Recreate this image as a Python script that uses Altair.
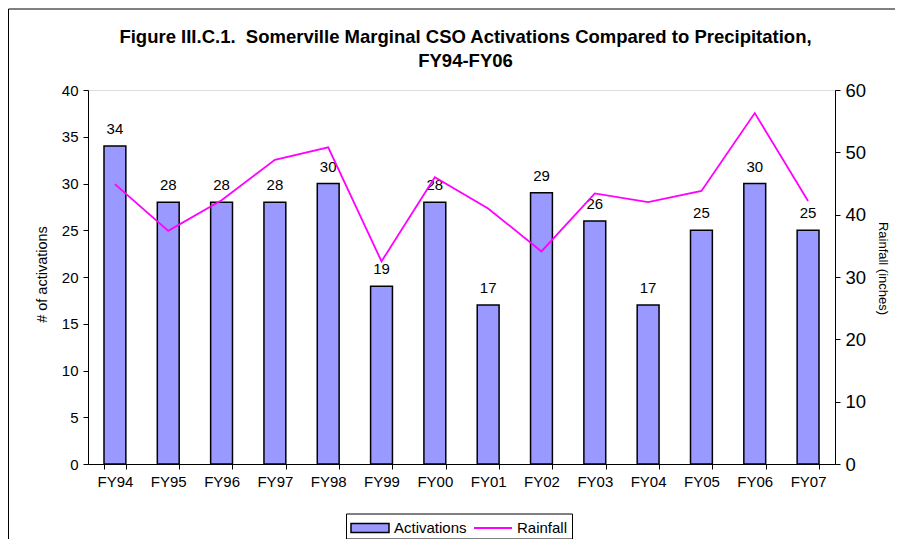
import altair as alt
import pandas as pd

years = ["FY94", "FY95", "FY96", "FY97", "FY98", "FY99", "FY00",
         "FY01", "FY02", "FY03", "FY04", "FY05", "FY06", "FY07"]
activations = [34, 28, 28, 28, 30, 19, 28, 17, 29, 26, 17, 25, 30, 25]
rainfall = [44.9, 37.4, 42.3, 48.8, 50.8, 32.5, 46.0, 41.0, 34.1, 43.4, 42.0, 43.8, 56.3, 42.2]

df = pd.DataFrame({
    "year": years,
    "activations": activations,
    "rainfall": rainfall,
    "s_bar": ["Activations"] * len(years),
    "s_line": ["Rainfall"] * len(years),
})

FONT = "Liberation Sans"

bar_legend = alt.Legend(
    orient="none", legendX=262, legendY=418, direction="horizontal", title=None,
    padding=0, labelFont=FONT, labelFontSize=15, labelColor="black", labelOffset=4,
    symbolSize=1444, symbolType="M-1,-0.24H1V0.24H-1Z",
    symbolStrokeColor="black", symbolStrokeWidth=1.5, symbolFillColor="#9999FF",
    symbolOpacity=1,
)
line_legend = alt.Legend(
    orient="none", legendX=385, legendY=418, direction="horizontal", title=None,
    padding=0, labelFont=FONT, labelFontSize=15, labelColor="black", labelOffset=4,
    symbolSize=1444, symbolType="stroke", symbolStrokeWidth=1.8, symbolOpacity=1,
)

x_enc = alt.X("year:N", sort=years, title=None,
              scale=alt.Scale(paddingInner=0.59, paddingOuter=0.3),
              axis=alt.Axis(labelAngle=0, tickBand="extent", labelFont=FONT, labelFontSize=15,
                            labelColor="black", tickColor="black", domainColor="black",
                            tickSize=5, labelPadding=5))

bars = alt.Chart(df).mark_bar(stroke="black", strokeWidth=1.5, fillOpacity=1).encode(
    x=x_enc,
    y=alt.Y("activations:Q", scale=alt.Scale(domain=[0, 40]),
            axis=alt.Axis(title="# of activations", values=list(range(0, 41, 5)), grid=False,
                          labelFont=FONT, labelFontSize=15, labelColor="black",
                          titleFont=FONT, titleFontSize=14.5, titleFontWeight="normal",
                          titleColor="black", titlePadding=12, titleY=184, tickColor="black",
                          domainColor="black", tickSize=5, labelPadding=5)),
    fill=alt.Fill("s_bar:N", scale=alt.Scale(domain=["Activations"], range=["#9999FF"]),
                  legend=bar_legend),
)

labels = alt.Chart(df).mark_text(dy=-17, font=FONT, fontSize=15, color="black").encode(
    x=alt.X("year:N", sort=years),
    y=alt.Y("activations:Q", scale=alt.Scale(domain=[0, 40])),
    text="activations:Q",
)

left = alt.layer(bars, labels)

line = alt.Chart(df).mark_line(strokeWidth=1.8).encode(
    x=alt.X("year:N", sort=years),
    y=alt.Y("rainfall:Q", scale=alt.Scale(domain=[0, 60]),
            axis=alt.Axis(title="Rainfall (inches)", orient="right", values=list(range(0, 61, 10)),
                          grid=False, labelFont=FONT, labelFontSize=18.5, labelColor="black",
                          titleFont=FONT, titleFontSize=13, titleFontWeight="normal",
                          titleColor="black", titlePadding=10, titleY=178, tickColor="black",
                          domainColor="black", tickSize=5, labelPadding=5)),
    stroke=alt.Stroke("s_line:N", scale=alt.Scale(domain=["Rainfall"], range=["#FF00FF"]),
                      legend=line_legend),
)

deco = alt.Data(values=[{"k": 1}])
border_left = alt.Chart(deco).mark_rule(color="black", strokeWidth=1).encode(
    x=alt.value(-79.5), y=alt.value(-81), y2=alt.value(460))
border_top = alt.Chart(deco).mark_rule(color="black", strokeWidth=1).encode(
    x=alt.value(-79.5), x2=alt.value(820), y=alt.value(-81))
legend_box = alt.Chart(deco).mark_rect(fill="white", stroke="black", strokeWidth=1).encode(
    x=alt.value(258.5), x2=alt.value(484.5), y=alt.value(424), y2=alt.value(449))

chart = alt.layer(left, line, border_left, border_top, legend_box).resolve_scale(
    y="independent"
).properties(
    width=747, height=374,
    title=alt.TitleParams(
        text=["Figure III.C.1.\u00a0 Somerville Marginal CSO Activations Compared to Precipitation,",
              "FY94-FY06"],
        font=FONT, fontSize=18.5, fontWeight="bold", color="black", anchor="middle",
        baseline="bottom", offset=-80.5, lineHeight=24, dx=4),
    autosize=alt.AutoSizeParams(type="none"),
    padding={"left": 80, "top": 82, "right": 60, "bottom": 75},
).configure_view(stroke="black", strokeWidth=1).configure(background="white")

chart.save("out.html", embed_options={"renderer": "svg", "actions": False})
